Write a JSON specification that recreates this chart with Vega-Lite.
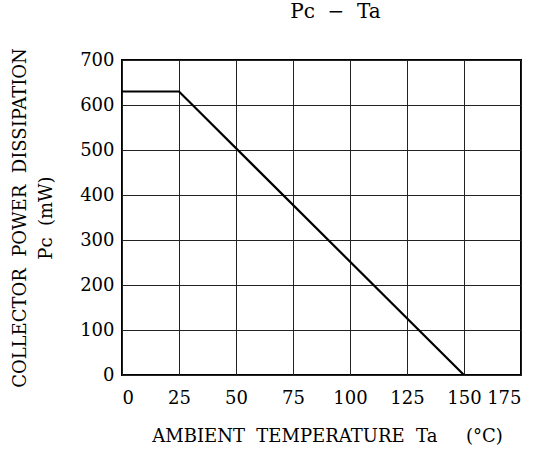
{
  "$schema": "https://vega.github.io/schema/vega-lite/v6.json",
  "width": 399,
  "height": 315,
  "autosize": "none",
  "padding": {"left": 122, "top": 60, "right": 39, "bottom": 75},
  "background": "white",
  "config": {
    "view": {"stroke": "black", "strokeWidth": 2},
    "font": "DejaVu Serif"
  },
  "title": {
    "text": "Pᴄ\u00a0\u00a0−\u00a0\u00a0Ta",
    "font": "DejaVu Serif",
    "fontSize": 20,
    "fontWeight": "normal",
    "color": "black",
    "offset": 26,
    "anchor": "middle",
    "dx": 14
  },
  "data": {
    "values": [
      {"ta": 0, "pc": 630},
      {"ta": 25, "pc": 630},
      {"ta": 150, "pc": 0}
    ]
  },
  "mark": {"type": "line", "color": "black", "strokeWidth": 2.2, "clip": true},
  "encoding": {
    "x": {
      "field": "ta",
      "type": "quantitative",
      "scale": {"domain": [0, 175], "nice": false},
      "axis": {
        "values": [0, 25, 50, 75, 100, 125, 150, 175],
        "title": "AMBIENT\u00a0\u00a0TEMPERATURE\u00a0\u00a0Ta\u00a0\u00a0\u00a0\u00a0\u00a0(°C)",
        "titleFont": "DejaVu Serif",
        "titleFontSize": 18,
        "titleFontWeight": "normal",
        "titleColor": "black",
        "titlePadding": 20,
        "titleX": 205,
        "labelFont": "DejaVu Serif",
        "labelFontSize": 18,
        "labelColor": "black",
        "labelPadding": 14,
        "ticks": false,
        "domain": false,
        "grid": true,
        "gridColor": "#222",
        "gridWidth": 1,
        "gridOpacity": 1
      }
    },
    "y": {
      "field": "pc",
      "type": "quantitative",
      "scale": {"domain": [0, 700], "nice": false},
      "axis": {
        "values": [0, 100, 200, 300, 400, 500, 600, 700],
        "title": ["COLLECTOR\u00a0\u00a0POWER\u00a0\u00a0DISSIPATION", "Pᴄ\u00a0\u00a0(mW)"],
        "titleFont": "DejaVu Serif",
        "titleFontSize": 18,
        "titleFontWeight": "normal",
        "titleColor": "black",
        "titleLineHeight": 26,
        "titlePadding": 24,
        "labelFont": "DejaVu Serif",
        "labelFontSize": 18,
        "labelColor": "black",
        "labelPadding": 8,
        "ticks": false,
        "domain": false,
        "grid": true,
        "gridColor": "#222",
        "gridWidth": 1,
        "gridOpacity": 1
      }
    }
  }
}
